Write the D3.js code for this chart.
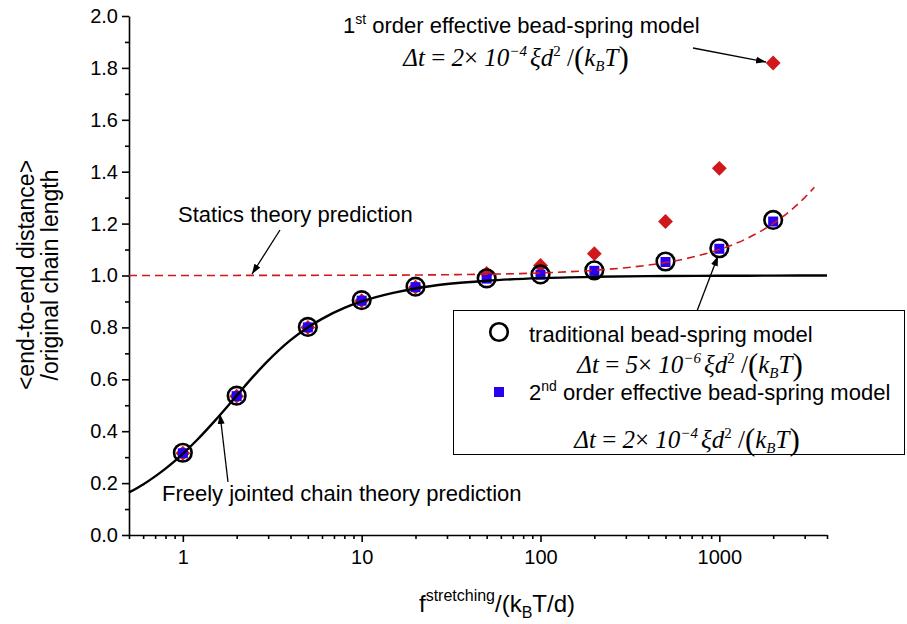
<!DOCTYPE html>
<html><head><meta charset="utf-8">
<script src="https://cdn.jsdelivr.net/npm/d3@7"></script>
<style>body{margin:0;background:#fff}svg{display:block}</style>
</head><body><svg id="c" width="907" height="624"></svg>
<script>
// ---------- data ----------
const forces = [1, 2, 5, 10, 20, 50, 100, 200, 500, 1000, 2000];
const traditional = [0.317, 0.537, 0.802, 0.905, 0.957, 0.989, 1.004, 1.020, 1.054, 1.105, 1.214];
const secondOrder = [0.315, 0.535, 0.800, 0.903, 0.955, 0.988, 1.003, 1.018, 1.052, 1.103, 1.208];
const firstOrder  = [0.315, 0.535, 0.800, 0.903, 0.955, 1.008, 1.039, 1.084, 1.208, 1.413, 1.819];
const fjcX = [0.5, 0.6, 0.7, 0.8, 0.9, 1, 1.2, 1.5, 2, 2.5, 3, 4, 5, 6, 8, 10, 15, 20, 30, 50, 100, 200, 500, 1000, 2000, 4000];
const fjcY = [0.164, 0.195, 0.226, 0.256, 0.285, 0.313, 0.366, 0.438, 0.537, 0.614, 0.672, 0.751, 0.800, 0.833, 0.875, 0.900, 0.933, 0.950, 0.967, 0.980, 0.990, 0.995, 0.998, 0.999, 0.9995, 1.000];
const staticsX = [0.5, 10, 30, 100, 200, 300, 500, 700, 1000, 1400, 2000, 2500, 3000, 3400];
const staticsY = [1.000, 1.001, 1.003, 1.010, 1.020, 1.030, 1.050, 1.070, 1.100, 1.140, 1.200, 1.250, 1.300, 1.340];
const xMajorTicks = [1, 10, 100, 1000];
const xMinorTicks = [0.5,0.6,0.7,0.8,0.9,2,3,4,5,6,7,8,9,20,30,40,50,60,70,80,90,200,300,400,500,600,700,800,900,2000,3000,4000];
const yMajorTicks = [0, 0.2, 0.4, 0.6, 0.8, 1.0, 1.2, 1.4, 1.6, 1.8, 2.0];
const yMinorTicks = [0.1, 0.3, 0.5, 0.7, 0.9, 1.1, 1.3, 1.5, 1.7, 1.9];

// ---------- setup ----------
const svg = d3.select("#c");
const SANS = "'Liberation Sans', Arial, Helvetica, sans-serif";
const SERIF = "'Liberation Serif', 'Times New Roman', serif";
const x = d3.scaleLog().domain([0.5, 4000]).range([129, 827]);
const y = d3.scaleLinear().domain([0, 2]).range([535, 16]);
const RED = "#d0181c", BLUE = "#2a00f0";

const defs = svg.append("defs");
defs.append("marker").attr("id", "ah").attr("viewBox", "0 0 10 10")
  .attr("refX", 10).attr("refY", 5).attr("markerWidth", 10).attr("markerHeight", 10)
  .attr("markerUnits", "userSpaceOnUse").attr("orient", "auto")
  .append("path").attr("d", "M0,1.5 L10,5 L0,8.5 Z").attr("fill", "#000");

// ---------- axes ----------
const xAxisG = svg.append("g").attr("transform", "translate(0,535)");
xAxisG.call(d3.axisBottom(x).tickValues(xMajorTicks).tickFormat(d3.format("d")).tickSize(7).tickSizeOuter(0));
xAxisG.append("g").call(d3.axisBottom(x).tickValues(xMinorTicks).tickFormat("").tickSize(4).tickSizeOuter(0))
  .select(".domain").remove();
const yAxisG = svg.append("g").attr("transform", "translate(129,0)");
yAxisG.call(d3.axisLeft(y).tickValues(yMajorTicks).tickFormat(d3.format(".1f")).tickSize(7).tickSizeOuter(0));
yAxisG.append("g").call(d3.axisLeft(y).tickValues(yMinorTicks).tickFormat("").tickSize(4).tickSizeOuter(0))
  .select(".domain").remove();
svg.selectAll(".domain, .tick line").attr("stroke", "#000").attr("stroke-width", 1.6);
svg.selectAll(".tick text").attr("font-family", SANS).attr("font-size", 20).attr("fill", "#000");
xAxisG.selectAll(".tick text").attr("dy", "0.95em").attr("y", 10);
yAxisG.selectAll(".tick text").attr("x", -11);

// axis titles
const xt = svg.append("text").attr("x", 497).attr("y", 612).attr("text-anchor", "middle")
  .attr("font-family", SANS).attr("font-size", 24).attr("fill", "#000");
xt.append("tspan").text("f");
xt.append("tspan").attr("font-size", 16).attr("dy", -11).text("stretching");
xt.append("tspan").attr("dy", 11).text("/(k");
xt.append("tspan").attr("font-size", 16).attr("dy", 6).text("B");
xt.append("tspan").attr("dy", -6).text("T/d)");

const yt = svg.append("g").attr("transform", "translate(0,275) rotate(-90)");
yt.append("text").attr("x", 0).attr("y", 34).attr("text-anchor", "middle")
  .attr("font-family", SANS).attr("font-size", 23).text("<end-to-end distance>");
yt.append("text").attr("x", 0).attr("y", 58).attr("text-anchor", "middle")
  .attr("font-family", SANS).attr("font-size", 23).text("/original chain length");

// ---------- markers ----------
const pts = forces.map((f, i) => ({f, t: traditional[i], s: secondOrder[i], o: firstOrder[i]}));
svg.append("g").selectAll("path").data(pts).enter().append("path")
  .attr("d", d3.symbol().type(d3.symbolDiamond2).size(140))
  .attr("transform", d => `translate(${x(d.f)},${y(d.o)})`)
  .attr("fill", RED);
svg.append("g").selectAll("circle").data(pts).enter().append("circle")
  .attr("cx", d => x(d.f)).attr("cy", d => y(d.t)).attr("r", 8.8)
  .attr("fill", "none").attr("stroke", "#000").attr("stroke-width", 2.6);
svg.append("g").selectAll("rect").data(pts).enter().append("rect")
  .attr("x", d => x(d.f) - 5).attr("y", d => y(d.s) - 5).attr("width", 10).attr("height", 10)
  .attr("fill", BLUE);

// ---------- curves ----------
const line = d3.line().x(d => x(d[0])).y(d => y(d[1])).curve(d3.curveMonotoneX);
svg.append("path").attr("d", line(staticsX.map((v, i) => [v, staticsY[i]])))
  .attr("fill", "none").attr("stroke", RED).attr("stroke-width", 1.6).attr("stroke-dasharray", "8,5");
svg.append("path").attr("d", line(fjcX.map((v, i) => [v, fjcY[i]])))
  .attr("fill", "none").attr("stroke", "#000").attr("stroke-width", 2.4);

// ---------- formula helper ----------
function formula(cx, by, coef, expo) {
  const t = svg.append("text").attr("x", cx).attr("y", by).attr("text-anchor", "middle")
    .attr("font-family", SERIF).attr("font-size", 25).attr("fill", "#000");
  t.append("tspan").attr("font-style", "italic").text("Δt");
  t.append("tspan").text(" = ");
  t.append("tspan").attr("font-style", "italic").text(coef);
  t.append("tspan").text("× ");
  t.append("tspan").attr("font-style", "italic").text("10");
  t.append("tspan").attr("font-style", "italic").attr("font-size", 15).attr("dy", -10).text("−" + expo + "\u2009");
  t.append("tspan").attr("font-style", "italic").attr("dy", 10).text("ξd");
  t.append("tspan").attr("font-size", 15).attr("dy", -10).text("2");
  t.append("tspan").attr("dy", 10).text(" /");
  t.append("tspan").attr("font-size", 31).attr("font-weight", 300).attr("dy", 2).text("(");
  t.append("tspan").attr("font-style", "italic").attr("dy", -2).text("k");
  t.append("tspan").attr("font-style", "italic").attr("font-size", 15).attr("dy", 5).text("B");
  t.append("tspan").attr("font-style", "italic").attr("dy", -5).text("T");
  t.append("tspan").attr("font-size", 31).attr("font-weight", 300).attr("dy", 2).text(")");
}
function label(x0, by, parts) {
  const t = svg.append("text").attr("x", x0).attr("y", by)
    .attr("font-family", SANS).attr("font-size", 22).attr("fill", "#000");
  parts.forEach(p => {
    const s = t.append("tspan").text(p.s);
    if (p.sup) s.attr("font-size", 14).attr("dy", -9);
    if (p.back) s.attr("dy", 9);
  });
}

// ---------- annotations ----------
label(343, 33, [{s: "1"}, {s: "st", sup: true}, {s: " order effective bead-spring model", back: true}]);
formula(516, 66, "2", "4");
label(178, 222, [{s: "Statics theory prediction"}]);
label(162, 501, [{s: "Freely jointed chain theory prediction"}]);

function arrow(x1, y1, x2, y2) {
  svg.append("line").attr("x1", x1).attr("y1", y1).attr("x2", x2).attr("y2", y2)
    .attr("stroke", "#000").attr("stroke-width", 1.3).attr("marker-end", "url(#ah)");
}
arrow(693, 48, 766, 62);
arrow(280, 230, 252, 274);
arrow(228, 482, 220, 414);
arrow(697, 311, 718, 256);

// ---------- legend ----------
svg.append("rect").attr("x", 453.5).attr("y", 310.5).attr("width", 451).attr("height", 144)
  .attr("fill", "#fff").attr("stroke", "#000").attr("stroke-width", 1);
svg.append("circle").attr("cx", 499).attr("cy", 332).attr("r", 8.8)
  .attr("fill", "none").attr("stroke", "#000").attr("stroke-width", 2.6);
label(529, 342, [{s: "traditional bead-spring model"}]);
formula(690, 373, "5", "6");
svg.append("rect").attr("x", 494).attr("y", 387).attr("width", 10).attr("height", 10).attr("fill", BLUE);
label(529, 400, [{s: "2"}, {s: "nd", sup: true}, {s: " order effective bead-spring model", back: true}]);
formula(687, 448, "2", "4");
</script></body></html>
